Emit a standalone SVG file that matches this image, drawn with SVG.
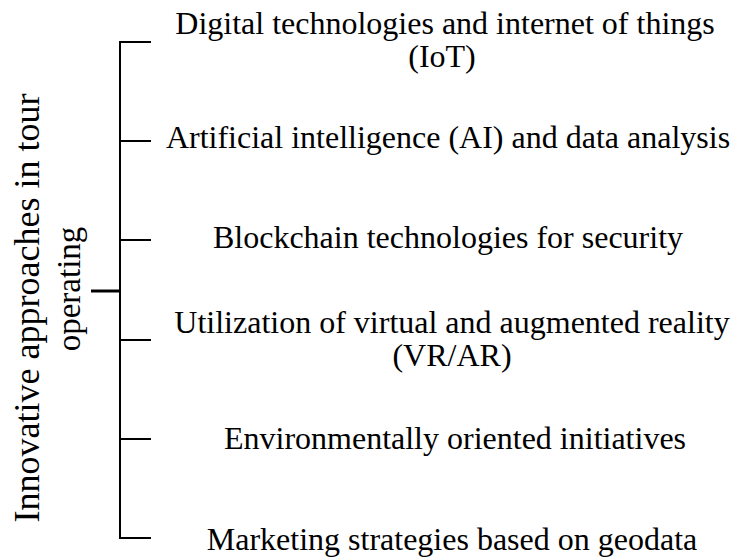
<svg xmlns="http://www.w3.org/2000/svg" width="733" height="559" viewBox="0 0 733 559">
<style>
text{font-family:"Liberation Serif","Times New Roman",serif;font-size:32px;fill:#000}
.c{text-anchor:middle}
.v{font-size:36px}
.ln{stroke:#000;stroke-width:2;fill:none}
</style>
<rect width="733" height="559" fill="#fff"/>
<g id="connectors">
<line class="ln" x1="120" y1="41" x2="120" y2="539"/>
<line class="ln" x1="91" y1="291" x2="120" y2="291" style="stroke-width:3"/>
<line class="ln" x1="119" y1="42" x2="151" y2="42"/>
<line class="ln" x1="119" y1="141" x2="151" y2="141"/>
<line class="ln" x1="119" y1="240" x2="151" y2="240"/>
<line class="ln" x1="119" y1="340" x2="151" y2="340"/>
<line class="ln" x1="119" y1="439" x2="151" y2="439"/>
<line class="ln" x1="119" y1="538" x2="151" y2="538"/>
</g>
<g id="root">
<text class="c v" transform="translate(39,308) rotate(-90)">Innovative approaches in tour</text>
<text class="c" transform="translate(80,289) rotate(-90)" style="font-size:33px">operating</text>
</g>
<g id="n1"><text class="c" x="445" y="34">Digital technologies and internet of things</text><text class="c" x="442" y="67">(IoT)</text></g>
<g id="n2"><text class="c" x="448" y="148">Artificial intelligence (AI) and data analysis</text></g>
<g id="n3"><text class="c" x="448" y="248">Blockchain technologies for security</text></g>
<g id="n4"><text class="c" x="452" y="333">Utilization of virtual and augmented reality</text><text class="c" x="452" y="366">(VR/AR)</text></g>
<g id="n5"><text class="c" x="455" y="449">Environmentally oriented initiatives</text></g>
<g id="n6"><text class="c" x="452" y="550">Marketing strategies based on geodata</text></g>
</svg>
